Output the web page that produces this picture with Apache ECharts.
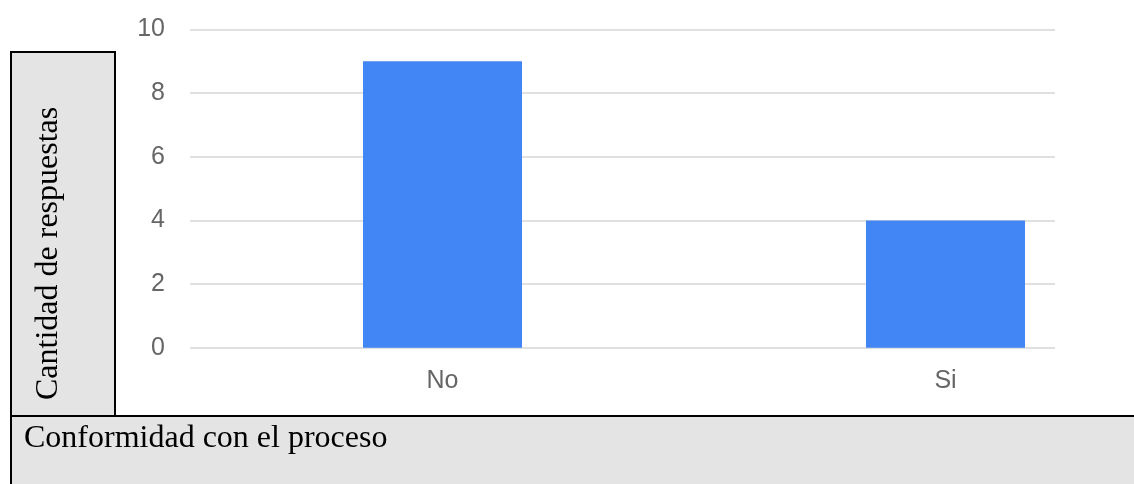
<!DOCTYPE html>
<html>
<head>
<meta charset="utf-8">
<script src="https://cdn.jsdelivr.net/npm/echarts@6/dist/echarts.min.js"></script>
<style>
html,body{margin:0;padding:0;background:#fff;}
#chart{width:1134px;height:484px;}
</style>
</head>
<body>
<div id="chart"></div>
<script>
const categories = ['No', 'Si'];
const values = [9, 4];
const yTicks = [0, 2, 4, 6, 8, 10];
const yAxisTitle = 'Cantidad de respuestas';
const xAxisTitle = 'Conformidad con el proceso';

const chart = echarts.init(document.getElementById('chart'), null, {renderer: 'canvas'});
const gray = '#e4e4e4';
const labelColor = '#666666';

const option = {
  backgroundColor: '#ffffff',
  animation: false,
  grid: {left: 190, right: 79, top: 29.5, bottom: 136.3, containLabel: false},
  xAxis: {
    type: 'value',
    min: -0.502,
    max: 1.2177,
    axisLine: {show: false},
    axisTick: {show: false},
    splitLine: {show: false},
    axisLabel: {
      customValues: categories.map((c, i) => i),
      formatter: v => categories[Math.round(v)] || '',
      color: labelColor,
      fontFamily: 'Liberation Sans, Arial, sans-serif',
      fontSize: 25,
      margin: 21
    }
  },
  yAxis: {
    type: 'value',
    min: yTicks[0],
    max: yTicks[yTicks.length - 1],
    interval: yTicks[1] - yTicks[0],
    axisLine: {show: false},
    axisTick: {show: false},
    splitLine: {lineStyle: {color: '#e0e0e0', width: 2}},
    axisLabel: {
      color: labelColor,
      fontFamily: 'Liberation Sans, Arial, sans-serif',
      fontSize: 25,
      margin: 25,
      padding: [6, 0, 0, 0]
    }
  },
  series: [{
    type: 'bar',
    barWidth: 159,
    data: values.map((v, i) => [i, v]),
    itemStyle: {color: '#4285f4'}
  }],
  graphic: [
    {
      type: 'rect', z: 100,
      shape: {x: 11, y: 52, width: 104, height: 364},
      style: {fill: gray, stroke: '#000', lineWidth: 2}
    },
    {
      type: 'rect', z: 101,
      shape: {x: 11, y: 416, width: 1200, height: 120},
      style: {fill: gray, stroke: '#000', lineWidth: 2}
    },
    {
      type: 'text', z: 102,
      x: 49, y: 400, rotation: Math.PI / 2,
      style: {
        text: yAxisTitle, fill: '#000',
        font: '32px "Liberation Serif", "Times New Roman", serif',
        align: 'left', verticalAlign: 'middle'
      }
    },
    {
      type: 'text', z: 102,
      x: 24, y: 439,
      style: {
        text: xAxisTitle, fill: '#000',
        font: '32px "Liberation Serif", "Times New Roman", serif',
        align: 'left', verticalAlign: 'middle'
      }
    }
  ]
};
chart.setOption(option);
</script>
</body>
</html>
